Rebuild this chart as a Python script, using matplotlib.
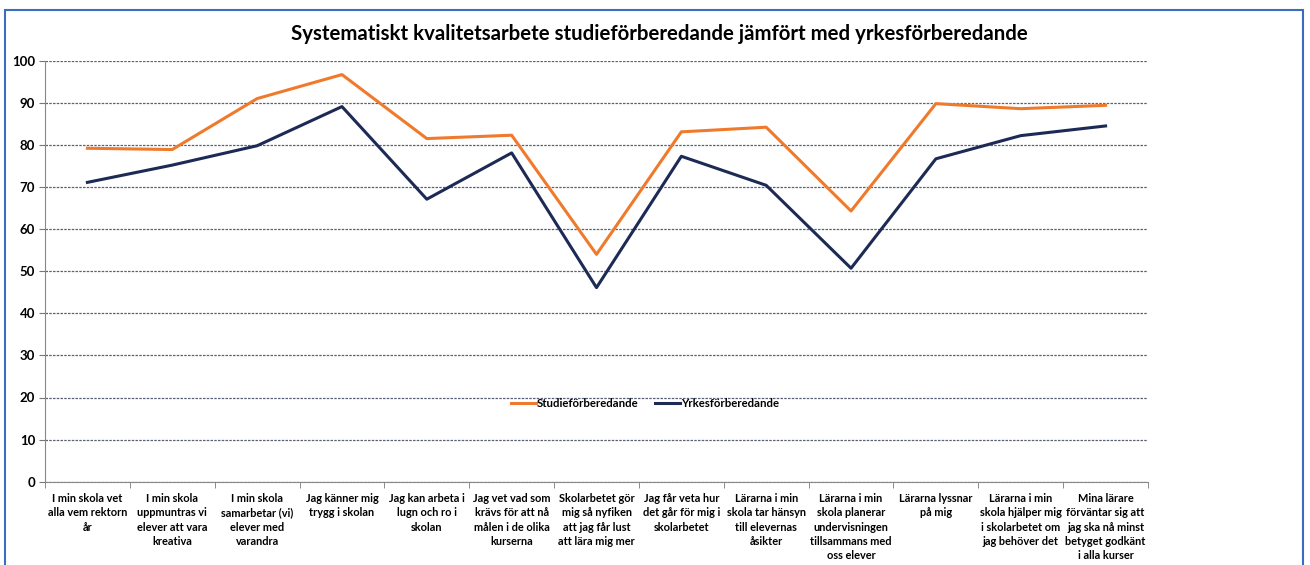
import matplotlib.pyplot as plt
from matplotlib.patches import Rectangle

categories = [
    "I min skola vet\nalla vem rektorn\når",
    "I min skola\nuppmuntras vi\nelever att vara\nkreativa",
    "I min skola\nsamarbetar (vi)\nelever med\nvarandra",
    "Jag känner mig\ntrygg i skolan",
    "Jag kan arbeta i\nlugn och ro i\nskolan",
    "Jag vet vad som\nkrävs för att nå\nmålen i de olika\nkurserna",
    "Skolarbetet gör\nmig så nyfiken\natt jag får lust\natt lära mig mer",
    "Jag får veta hur\ndet går för mig i\nskolarbetet",
    "Lärarna i min\nskola tar hänsyn\ntill elevernas\nåsikter",
    "Lärarna i min\nskola planerar\nundervisningen\ntillsammans med\noss elever",
    "Lärarna lyssnar\npå mig",
    "Lärarna i min\nskola hjälper mig\ni skolarbetet om\njag behöver det",
    "Mina lärare\nförväntar sig att\njag ska nå minst\nbetyget godkänt\ni alla kurser",
]
studie = [79.2, 78.9, 91.0, 96.7, 81.5, 82.3, 54.0, 83.1, 84.2, 64.3, 89.8, 88.6, 89.4]
yrke = [71.1, 75.2, 79.8, 89.1, 67.1, 78.1, 46.1, 77.3, 70.4, 50.7, 76.7, 82.2, 84.5]
yticks = [0, 10, 20, 30, 40, 50, 60, 70, 80, 90, 100]

label_font = ['Lato', 'DejaVu Sans']

fig = plt.figure(figsize=(13.1, 5.65), dpi=100)
ax = fig.add_axes([45 / 1310, 1 - 481.7 / 565, (1148 - 45) / 1310, (481.7 - 60.7) / 565])

x = list(range(len(categories)))
ax.plot(x, studie, color='#f07a2c', lw=2.2, label='Studieförberedande')
ax.plot(x, yrke, color='#1c2a55', lw=2.2, label='Yrkesförberedande')

ax.set_xlim(-0.5, len(categories) - 0.5)
ax.set_ylim(0, 100)
ax.set_yticks(yticks)
ax.set_yticklabels([str(v) for v in yticks], fontsize=9.5, fontweight='bold', family=label_font)
ax.yaxis.grid(True, color='#5a6075', lw=0.9, ls=(0, (2, 1)))
ax.set_axisbelow(True)

ax.set_xticks(x)
ax.set_xticklabels(categories, fontsize=7.9, fontweight='bold', family=label_font,
                   linespacing=1.38, va='top')
ax.set_xticks([i - 0.5 for i in range(len(categories) + 1)], minor=True)
ax.tick_params(axis='x', which='major', length=0, pad=8)
ax.tick_params(axis='x', which='minor', length=4, color='#777777', direction='out')
ax.tick_params(axis='y', length=4, color='#777777', pad=3)

for side in ['top', 'right']:
    ax.spines[side].set_visible(False)
ax.spines['left'].set_color('#888888')
ax.spines['bottom'].set_color('#888888')

ax.legend(loc='center', bbox_to_anchor=(0.544, 0.185), ncol=2, frameon=False,
          handlelength=2.2, handletextpad=0.05, columnspacing=1.5,
          prop={'family': label_font, 'size': 8.2, 'weight': 'bold'})

fig.text(0.503, 0.94, 'Systematiskt kvalitetsarbete studieförberedande jämfört med yrkesförberedande',
         ha='center', va='center', fontsize=14.7, fontweight='bold', family=['Lato', 'DejaVu Sans'])

fig.patches.append(Rectangle((5 / 1310, -0.01), 1298 / 1310, 1 - 10 / 565 + 0.01,
                             transform=fig.transFigure, fill=False,
                             edgecolor='#3a6cc0', lw=1.5))

fig.savefig('out.png', dpi=100)
